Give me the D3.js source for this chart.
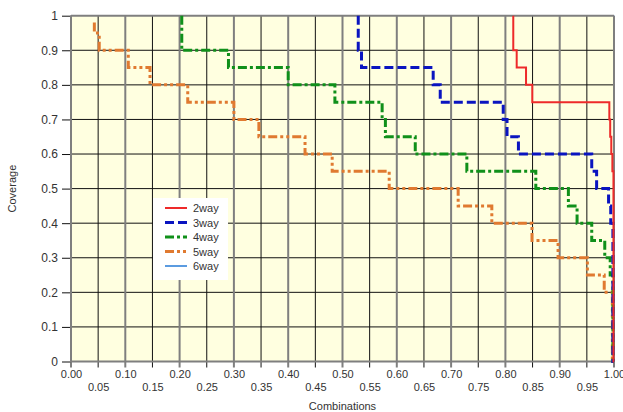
<!DOCTYPE html>
<html>
<head>
  <meta charset="utf-8">
  <title>Coverage vs Combinations</title>
  <script src="https://d3js.org/d3.v7.min.js"></script>
  <style>
    body { margin: 0; background: #fff; }
    text { font-family: "Liberation Sans", Arial, sans-serif; fill: #333; }
    .tick text { font-size: 11px; }
    .legend text { font-size: 11px; }
  </style>
</head>
<body>
  <svg id="chart"></svg>
  <script>
    // step points: vertical drop at previous x, then horizontal run to this x
    var x2way = [0.8145, 0.8208, 0.838, 0.8495, 0.9914, 0.993, 0.995, 0.997, 0.999, 1.0];
    var y2way = [1.0, 0.90, 0.85, 0.80, 0.75, 0.70, 0.65, 0.60, 0.55, 0];

    var x3way = [0.529, 0.535, 0.667, 0.680, 0.796, 0.803, 0.824, 0.959, 0.968, 0.990, 0.994, 0.998, 0.999];
    var y3way = [1.0, 0.90, 0.85, 0.80, 0.75, 0.70, 0.65, 0.60, 0.55, 0.50, 0.45, 0.40, 0];

    var x4way = [0.204, 0.290, 0.400, 0.486, 0.573, 0.579, 0.634, 0.729, 0.856, 0.916, 0.932, 0.959, 0.983, 0.993, 0.998, 0.999];
    var y4way = [1.0, 0.90, 0.85, 0.80, 0.75, 0.70, 0.65, 0.60, 0.55, 0.50, 0.45, 0.40, 0.35, 0.30, 0.25, 0];

    var x5way = [0.043, 0.052, 0.1055, 0.1455, 0.215, 0.300, 0.346, 0.431, 0.481, 0.586, 0.713, 0.775, 0.849, 0.897, 0.951, 0.982, 0.997, 0.997];
    var y5way = [0.98, 0.95, 0.90, 0.85, 0.80, 0.75, 0.70, 0.65, 0.60, 0.55, 0.50, 0.45, 0.40, 0.35, 0.30, 0.25, 0.20, 0];

    var x6way = [1.0, 1.0];
    var y6way = [1.0, 0];

    var seriesNames = ["2way", "3way", "4way", "5way", "6way"];
    var xTickLabels = ["0.00","0.05","0.10","0.15","0.20","0.25","0.30","0.35","0.40","0.45","0.50",
                       "0.55","0.60","0.65","0.70","0.75","0.80","0.85","0.90","0.95","1.00"];
    var yTickLabels = ["0","0.1","0.2","0.3","0.4","0.5","0.6","0.7","0.8","0.9","1"];

    var W = 623, H = 412;
    var plotL = 71, plotR = 614, plotT = 15.7, plotB = 361.5;

    var svg = d3.select("#chart").attr("width", W).attr("height", H);

    var x = d3.scaleLinear().domain([0, 1]).range([plotL, plotR]);
    var y = d3.scaleLinear().domain([0, 1]).range([plotB, plotT]);

    var xVals = xTickLabels.map(Number);
    var yVals = yTickLabels.map(Number);

    // plot background
    svg.append("rect")
       .attr("x", plotL).attr("y", plotT)
       .attr("width", plotR - plotL).attr("height", plotB - plotT)
       .attr("fill", "#ffffe0");

    var styles = {
      "2way": {color: "#ee2a2a", width: 2, dash: null},
      "3way": {color: "#0a14c0", width: 3, dash: "9,4"},
      "4way": {color: "#10901a", width: 3, dash: "9,3,3,3"},
      "5way": {color: "#e07a30", width: 3, dash: "9,3,3,3,3,3"},
      "6way": {color: "#5b9be0", width: 2, dash: null}
    };
    var data = {
      "2way": d3.zip(x2way, y2way),
      "3way": d3.zip(x3way, y3way),
      "4way": d3.zip(x4way, y4way),
      "5way": d3.zip(x5way, y5way),
      "6way": d3.zip(x6way, y6way)
    };

    var line = d3.line()
                 .x(d => x(d[0]))
                 .y(d => y(d[1]))
                 .curve(d3.curveStepBefore);

    function drawSeries(name) {
      var s = styles[name];
      svg.append("path")
         .datum(data[name])
         .attr("fill", "none")
         .attr("stroke", s.color)
         .attr("stroke-width", s.width)
         .attr("stroke-dasharray", s.dash)
         .attr("d", line);
    }

    drawSeries("6way");

    // horizontal grid
    svg.append("g").selectAll("line")
       .data(yVals.filter(v => v > 0 && v < 1))
       .enter().append("line")
       .attr("x1", plotL).attr("x2", plotR)
       .attr("y1", d => y(d)).attr("y2", d => y(d))
       .attr("stroke", "#111").attr("stroke-width", 1);

    // vertical grid (gray at tenths, black in between)
    svg.append("g").selectAll("line")
       .data(xVals)
       .enter().append("line")
       .attr("x1", d => x(d)).attr("x2", d => x(d))
       .attr("y1", plotT).attr("y2", plotB + 6)
       .attr("stroke", (d, i) => i % 2 === 0 ? "#7f7f7f" : "#111")
       .attr("stroke-width", (d, i) => i % 2 === 0 ? 2 : 1);

    // top border
    svg.append("line")
       .attr("x1", plotL).attr("x2", plotR)
       .attr("y1", plotT).attr("y2", plotT)
       .attr("stroke", "#7f7f7f").attr("stroke-width", 2);

    // y axis
    var yAxis = svg.append("g")
       .attr("transform", "translate(" + plotL + ",0)")
       .call(d3.axisLeft(y).tickValues(yVals).tickFormat((d, i) => yTickLabels[i]).tickSize(9).tickPadding(4));
    yAxis.select(".domain").remove();
    yAxis.selectAll(".tick line").attr("stroke", "#111");
    yAxis.selectAll(".tick text").style("font-size", "12px");
    svg.append("line")
       .attr("x1", plotL).attr("x2", plotL)
       .attr("y1", plotT).attr("y2", plotB + 1)
       .attr("stroke", "#7f7f7f").attr("stroke-width", 2);

    // x axis labels in two rows
    var xAxis = svg.append("g")
       .attr("transform", "translate(0," + plotB + ")")
       .call(d3.axisBottom(x).tickValues(xVals).tickFormat((d, i) => xTickLabels[i]).tickSize(0).tickPadding(9));
    xAxis.select(".domain").remove();
    xAxis.selectAll(".tick text").attr("dy", (d, i) => i % 2 === 0 ? "0.71em" : "1.85em");
    svg.append("line")
       .attr("x1", plotL - 1).attr("x2", plotR)
       .attr("y1", plotB).attr("y2", plotB)
       .attr("stroke", "#7f7f7f").attr("stroke-width", 2);

    drawSeries("5way");
    drawSeries("4way");
    drawSeries("3way");
    drawSeries("2way");

    // axis titles
    svg.append("text")
       .attr("x", (plotL + plotR) / 2).attr("y", 410)
       .attr("text-anchor", "middle")
       .style("font-size", "11px")
       .text("Combinations");
    svg.append("text")
       .attr("transform", "translate(16," + ((plotT + plotB) / 2) + ") rotate(-90)")
       .attr("text-anchor", "middle")
       .style("font-size", "11px")
       .text("Coverage");

    // legend
    var legend = svg.append("g").attr("class", "legend")
                    .attr("transform", "translate(153,198)");
    legend.append("rect")
          .attr("width", 75).attr("height", 82)
          .attr("fill", "#ffffff");
    var items = legend.selectAll("g.item")
                      .data(seriesNames)
                      .enter().append("g")
                      .attr("class", "item")
                      .attr("transform", (d, i) => "translate(0," + (10 + i * 14.5) + ")");
    items.append("line")
         .attr("x1", 12).attr("x2", 34)
         .attr("stroke", d => styles[d].color)
         .attr("stroke-width", d => styles[d].width)
         .attr("stroke-dasharray", d => styles[d].dash);
    items.append("text")
         .attr("x", 40).attr("y", 4)
         .text(d => d);
  </script>
</body>
</html>
